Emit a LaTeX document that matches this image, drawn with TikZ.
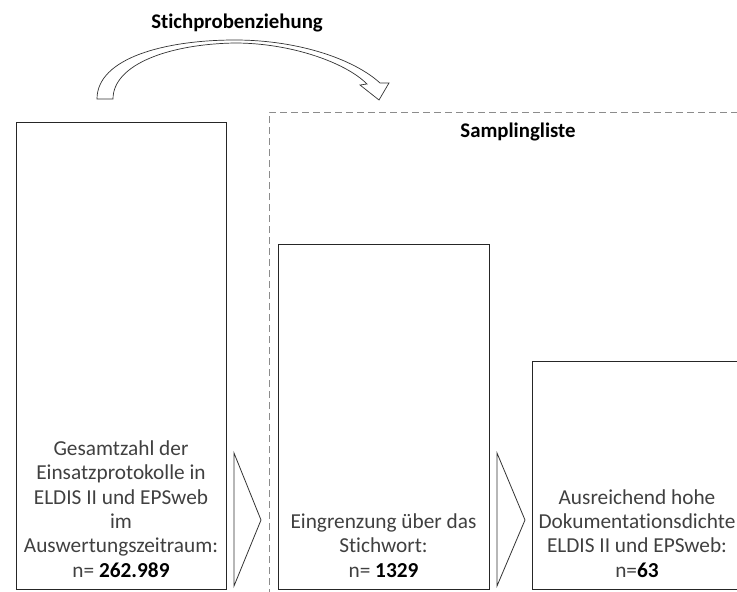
\documentclass[tikz,border=0pt]{standalone}
\usepackage{fontspec}
\setmainfont{Carlito}[Ligatures={NoCommon}]
\begin{document}
\begin{tikzpicture}[x=1pt,y=-1pt,
  box/.style={draw=black!85, line width=0.8pt, inner sep=0pt},
  boxtext/.style={align=center, inner sep=0pt, text=black!75, font=\fontsize{21.3}{24.3}\selectfont},
  chevron/.style={draw=black!80, line width=0.8pt},
  heading/.style={inner sep=0pt, font=\fontsize{20.8}{24}\selectfont\bfseries}]
\useasboundingbox (0,0) rectangle (737,592);
% dashed sampling frame
\draw[black!45, dashed, dash pattern=on 7pt off 4pt, line width=0.8pt] (269,596) -- (269,112) -- (740,112);
\node[heading] (samp) at (518,132) {Samplingliste};
\node[heading] (title) at (237,23) {Stichprobenziehung};
% boxes
\draw[box] (16,122) rectangle (226,589);
\draw[box] (278,244) rectangle (489,589);
\draw[box] (532,361) rectangle (745,589);
\node[boxtext, anchor=base] (t1) at (121,577) {Gesamtzahl der\\Einsatzprotokolle in\\ELDIS II und EPSweb\\im\\Auswertungszeitraum:\\n= \textbf{\color{black}262.989}};
\node[boxtext, anchor=base] (t2) at (383.5,577) {Eingrenzung über das\\Stichwort:\\n= \textbf{\color{black}1329}};
\node[boxtext, anchor=base] (t3) at (637,577) {Ausreichend hohe\\Dokumentationsdichte\\ELDIS II und EPSweb:\\n=\textbf{\color{black}63}};
% chevrons
\draw[chevron] (234,453) -- (261,520) -- (234,586) -- cycle;
\draw[chevron] (497,453) -- (525,520) -- (497,586) -- cycle;
% curved block arrow
\draw[black!80, line width=0.7pt, fill=white]
  (97,99) .. controls (97,58) and (165,40) .. (235,40)
  .. controls (300,40) and (355,60) .. (380,83)
  -- (389,83) -- (379,100) -- (360,85) -- (367,84)
  .. controls (345,62) and (290,43) .. (235,43)
  .. controls (170,44) and (113,64) .. (113,99) -- cycle;
\end{tikzpicture}
\end{document}
